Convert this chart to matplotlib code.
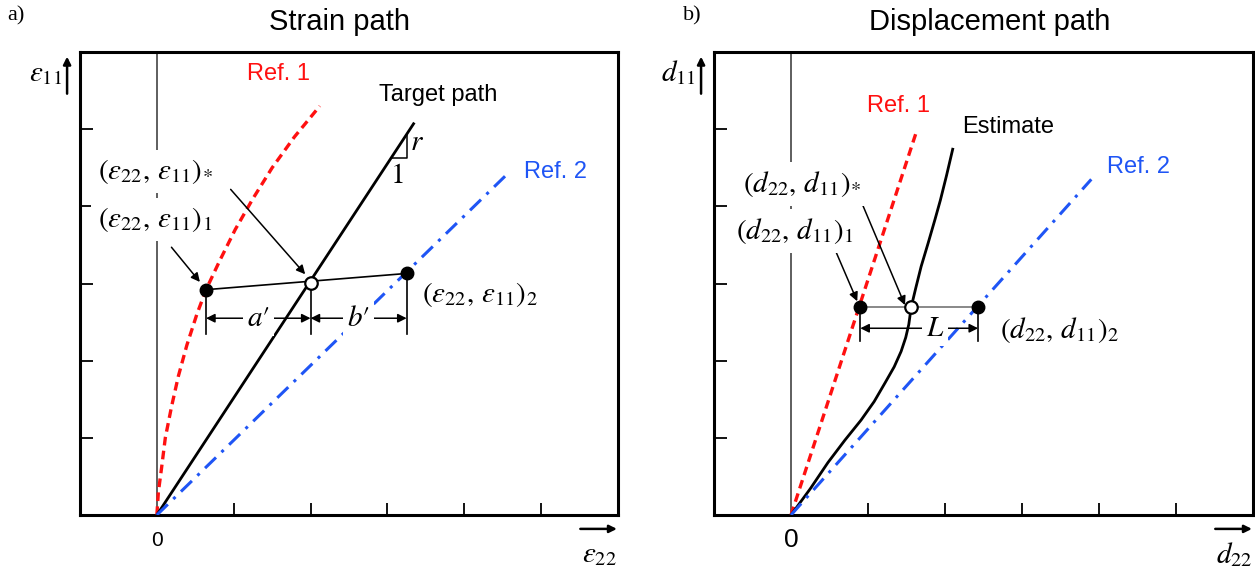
import matplotlib
matplotlib.use("Agg")
import matplotlib.pyplot as plt

plt.rcParams["font.family"] = ["Liberation Sans", "DejaVu Sans"]
plt.rcParams["mathtext.fontset"] = "stix"

# ---- panel a) strain path (units = tick spacing) ----
ref1_x = [0.0, 0.02, 0.06, 0.11, 0.19, 0.28, 0.39, 0.52, 0.64, 0.82, 1.02, 1.25, 1.50, 1.79, 2.12]
ref1_y = [0.0, 0.30, 0.60, 1.00, 1.40, 1.80, 2.20, 2.60, 2.92, 3.30, 3.70, 4.10, 4.50, 4.90, 5.30]
target_x = [0.0, 3.34]
target_y = [0.0, 5.07]
ref2_x = [0.0, 4.53]
ref2_y = [0.0, 4.39]
pt1_a = (0.64, 2.92)
pts_a = (2.00, 3.01)
pt2_a = (3.25, 3.13)

# ---- panel b) displacement path ----
dref1_x = [0.0, 1.62]
dref1_y = [0.0, 4.94]
est_x = [0.0, 0.25, 0.48, 0.70, 0.91, 1.08, 1.22, 1.34, 1.43, 1.49, 1.53, 1.56,
         1.62, 1.69, 1.78, 1.87, 1.94, 2.02, 2.10]
est_y = [0.0, 0.34, 0.68, 0.97, 1.23, 1.47, 1.71, 1.92, 2.12, 2.30, 2.47, 2.69,
         2.94, 3.22, 3.52, 3.83, 4.08, 4.40, 4.74]
dref2_x = [0.0, 3.90]
dref2_y = [0.0, 4.35]
pt1_b = (0.90, 2.69)
pts_b = (1.56, 2.69)
pt2_b = (2.43, 2.69)

TICKS = [1, 2, 3, 4, 5]
RED = "#ff1010"
BLUE = "#1f55f5"
MATH = 21
SANS = 17

fig = plt.figure(figsize=(12.55, 5.71), dpi=100)
axa = fig.add_axes([80 / 1255, 56 / 571, 538 / 1255, 463 / 571])
axb = fig.add_axes([714 / 1255, 56 / 571, 539 / 1255, 463 / 571])


def frame(ax):
    ax.set_xlim(-1, 6)
    ax.set_ylim(0, 6)
    for s in ax.spines.values():
        s.set_linewidth(2.2)
    ax.set_xticks(TICKS)
    ax.set_yticks(TICKS)
    ax.tick_params(direction="in", length=9, width=1.3, labelbottom=False, labelleft=False)
    ax.axvline(0, color="#333333", lw=1.1, zorder=1)


def box_text(ax, x, y, s, pad=5, **kw):
    ax.text(x, y, s, fontsize=MATH, va="center", zorder=6,
            bbox=dict(fc="white", ec="none", pad=pad), **kw)


def arrow(ax, start, end, style="-|>", lw=1.1):
    ax.annotate("", xy=end, xytext=start, zorder=5,
                arrowprops=dict(arrowstyle=style, color="black", lw=lw,
                                mutation_scale=13, shrinkA=0, shrinkB=0))


def axis_labels(ax, ylab, xlab, zero_size):
    ax.text(0, -0.055, "0", transform=ax.get_xaxis_transform(), ha="center",
            va="center", fontsize=zero_size)
    ax.text(-0.033, 0.955, ylab, transform=ax.transAxes, ha="right", va="center",
            fontsize=MATH)
    ax.annotate("", xy=(-0.024, 0.99), xytext=(-0.024, 0.91), xycoords="axes fraction",
                arrowprops=dict(arrowstyle="-|>", color="black", lw=1.8, mutation_scale=11,
                                shrinkA=0, shrinkB=0), annotation_clip=False)
    ax.text(0.965, -0.085, xlab, transform=ax.transAxes, ha="center", va="center",
            fontsize=MATH)
    ax.annotate("", xy=(0.998, -0.03), xytext=(0.93, -0.03), xycoords="axes fraction",
                arrowprops=dict(arrowstyle="-|>", color="black", lw=1.8, mutation_scale=11,
                                shrinkA=0, shrinkB=0), annotation_clip=False)


# ================= panel a =================
ax = axa
frame(ax)
ax.plot(ref1_x, ref1_y, color=RED, lw=2.4, dashes=(2.6, 1.6), zorder=3)
ax.plot(target_x, target_y, color="black", lw=2.0, zorder=3)
ax.plot(ref2_x, ref2_y, color=BLUE, lw=2.2, dashes=(5, 2.5, 1, 2.5), zorder=3)

ax.plot([pt1_a[0], pt2_a[0]], [pt1_a[1], pt2_a[1]], color="black", lw=1.2, zorder=4)
ax.plot([pt1_a[0], pt2_a[0]], [pt1_a[1], pt2_a[1]], "o", color="black", ms=9, zorder=5)
ax.plot(*pts_a, "o", mfc="white", mec="black", mew=1.6, ms=9, zorder=5)

# dimension lines a', b'
ybar, yarr = 2.35, 2.55
for p in (pt1_a, pts_a, pt2_a):
    ax.plot([p[0], p[0]], [p[1], ybar], color="black", lw=1.2, zorder=4)
arrow(ax, (pt1_a[0], yarr), (pts_a[0], yarr), "<|-|>")
arrow(ax, (pts_a[0], yarr), (pt2_a[0], yarr), "<|-|>")
box_text(ax, (pt1_a[0] + pts_a[0]) / 2, yarr, r"$a′$", pad=3, ha="center")
box_text(ax, (pts_a[0] + pt2_a[0]) / 2, yarr, r"$b′$", pad=3, ha="center")

# slope triangle
ax.plot([3.05, 3.26, 3.26], [4.62, 4.62, 4.94], color="black", lw=1.1, zorder=4)
ax.text(3.29, 4.83, r"$r$", fontsize=MATH, va="center")
ax.text(3.12, 4.40, r"$1$", fontsize=MATH, va="center", ha="center")

box_text(ax, -0.76, 4.45, r"$(\varepsilon_{22},\,\varepsilon_{11})_{*}$", ha="left")
box_text(ax, -0.76, 3.83, r"$(\varepsilon_{22},\,\varepsilon_{11})_{1}$", ha="left")
ax.text(3.45, 2.86, r"$(\varepsilon_{22},\,\varepsilon_{11})_{2}$", fontsize=MATH, va="center")
arrow(ax, (0.96, 4.22), (1.93, 3.12))
arrow(ax, (0.19, 3.47), (0.56, 3.02))

ax.text(3.66, 5.44, "Target path", fontsize=SANS, ha="center", va="center")
ax.text(1.58, 5.71, "Ref. 1", fontsize=SANS, ha="center", va="center", color=RED)
ax.text(5.19, 4.44, "Ref. 2", fontsize=SANS, ha="center", va="center", color=BLUE)
ax.text(0.483, 1.065, "Strain path", transform=ax.transAxes, fontsize=21,
        ha="center", va="center")
axis_labels(ax, r"$\varepsilon_{11}$", r"$\varepsilon_{22}$", 15)

# ================= panel b =================
ax = axb
frame(ax)
ax.plot(dref1_x, dref1_y, color=RED, lw=2.4, dashes=(2.6, 1.6), zorder=3)
ax.plot(est_x, est_y, color="black", lw=2.0, zorder=3)
ax.plot(dref2_x, dref2_y, color=BLUE, lw=2.2, dashes=(5, 2.5, 1, 2.5), zorder=3)

ax.plot([pt1_b[0], pt2_b[0]], [pt1_b[1], pt2_b[1]], color="#888888", lw=1.4, zorder=4)
ax.plot([pt1_b[0], pt2_b[0]], [pt1_b[1], pt2_b[1]], "o", color="black", ms=9, zorder=5)
ax.plot(*pts_b, "o", mfc="white", mec="black", mew=1.6, ms=9, zorder=5)

ybar, yarr = 2.25, 2.42
for p in (pt1_b, pt2_b):
    ax.plot([p[0], p[0]], [p[1], ybar], color="black", lw=1.2, zorder=4)
arrow(ax, (pt1_b[0], yarr), (pt2_b[0], yarr), "<|-|>")
box_text(ax, 1.87, yarr, r"$L$", pad=3, ha="center")

box_text(ax, -0.62, 4.29, r"$(d_{22},\,d_{11})_{*}$", ha="left")
box_text(ax, -0.71, 3.68, r"$(d_{22},\,d_{11})_{1}$", ha="left")
box_text(ax, 2.72, 2.40, r"$(d_{22},\,d_{11})_{2}$", pad=3, ha="left")
arrow(ax, (0.90, 4.09), (1.48, 2.72))
arrow(ax, (0.58, 3.42), (0.86, 2.77))

ax.text(1.39, 5.30, "Ref. 1", fontsize=SANS, ha="center", va="center", color=RED)
ax.text(2.82, 5.03, "Estimate", fontsize=SANS, ha="center", va="center")
ax.text(4.51, 4.51, "Ref. 2", fontsize=SANS, ha="center", va="center", color=BLUE)
ax.text(0.512, 1.065, "Displacement path", transform=ax.transAxes, fontsize=21,
        ha="center", va="center")
axis_labels(ax, r"$d_{11}$", r"$d_{22}$", 19)

fig.text(0.006, 0.972, "a)", fontsize=16, family="Liberation Serif", va="center")
fig.text(0.544, 0.972, "b)", fontsize=16, family="Liberation Serif", va="center")

fig.savefig("out.png", dpi=100)
